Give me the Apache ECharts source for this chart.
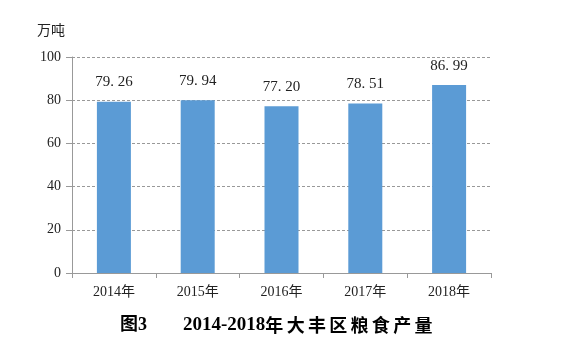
<!DOCTYPE html>
<html>
<head>
<meta charset="utf-8">
<script src="https://cdn.jsdelivr.net/npm/echarts@6/dist/echarts.min.js"></script>
<style>
  html, body { margin: 0; padding: 0; background: #fff; }
  #chart { width: 566px; height: 351px; }
</style>
</head>
<body>
<div id="chart"></div>
<script>
// 大丰区粮食产量（万吨）
const years = ['2014年', '2015年', '2016年', '2017年', '2018年'];
const output = [79.26, 79.94, 77.20, 78.51, 86.99];
const yTicks = [0, 20, 40, 60, 80, 100];
const titleNum = '图3';
const titleYears = '2014-2018';
const titleWords = '年大丰区粮食产量';

const serif = '"Liberation Serif", "DejaVu Serif", "Noto Sans CJK SC", serif';
const cjk = '"Noto Sans CJK SC", sans-serif';
const chart = echarts.init(document.getElementById('chart'));

// 标题里中文字间距较宽，用 rich 固定每个字的宽度
const titleText = '{n|' + titleNum + '}{y|' + titleYears + '}' +
  titleWords.split('').map(c => '{c|' + c + '}').join('');

chart.setOption({
  backgroundColor: '#fff',
  animation: false,
  title: {
    text: titleText,
    left: 115,
    top: 311,
    textStyle: {
      rich: {
        n: { fontFamily: serif, fontSize: 18, fontWeight: 'bold', color: '#000', width: 63 },
        y: { fontFamily: serif, fontSize: 19, fontWeight: 'bold', color: '#000' },
        c: { fontFamily: cjk, fontSize: 18, fontWeight: 'bold', color: '#000', width: 21.3 },
      },
    },
  },
  grid: { left: 72, right: 75, top: 57, bottom: 78 },
  xAxis: {
    type: 'category',
    data: years,
    axisLine: { lineStyle: { color: '#999', width: 1 } },
    axisTick: { show: true, length: 5, lineStyle: { color: '#999' } },
    axisLabel: { color: '#222', fontFamily: serif, fontSize: 14, margin: 12 },
  },
  yAxis: {
    type: 'value',
    min: yTicks[0],
    max: yTicks[yTicks.length - 1],
    interval: 20,
    name: '万吨',
    nameLocation: 'end',
    nameGap: 20,
    nameTextStyle: { color: '#222', fontSize: 14, align: 'right', padding: [0, 7, 0, 0], fontFamily: cjk },
    axisLine: { show: true, lineStyle: { color: '#999', width: 1 } },
    axisTick: { show: true, length: 6, inside: false, lineStyle: { color: '#999' } },
    axisLabel: { color: '#222', fontFamily: serif, fontSize: 14, margin: 11 },
    splitLine: { lineStyle: { color: '#999', type: [3, 2], width: 1 } },
  },
  series: [{
    type: 'bar',
    data: output,
    barWidth: 34,
    itemStyle: { color: '#5B9BD5' },
    label: {
      show: true,
      position: 'top',
      distance: 12,
      color: '#222',
      fontFamily: serif,
      fontSize: 15,
      formatter: p => p.value.toFixed(2).replace('.', '. '),
    },
  }],
});
</script>
</body>
</html>
